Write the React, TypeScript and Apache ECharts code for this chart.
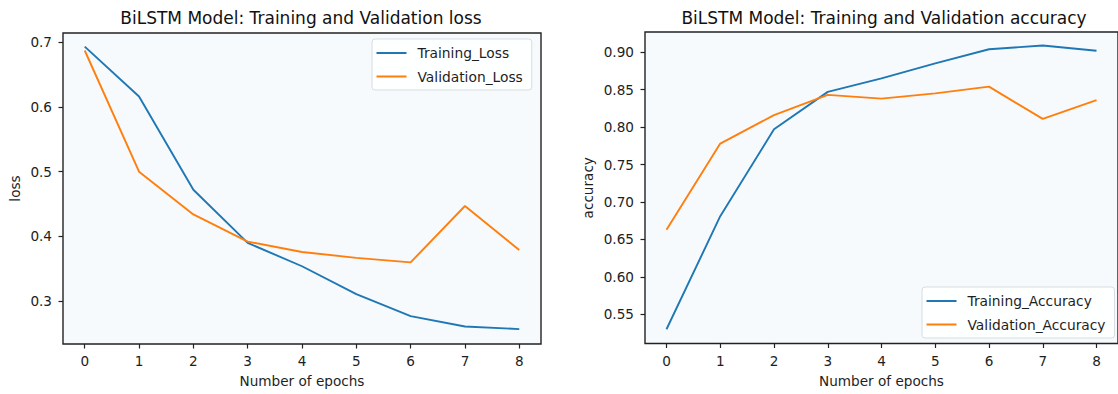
import React, { useEffect, useRef } from "react";
import * as echarts from "echarts";

const epochs = [0, 1, 2, 3, 4, 5, 6, 7, 8];
const trainingLoss = [0.693, 0.616, 0.472, 0.39, 0.354, 0.311, 0.277, 0.261, 0.257];
const validationLoss = [0.687, 0.5, 0.434, 0.392, 0.376, 0.367, 0.36, 0.447, 0.379];
const trainingAccuracy = [0.53, 0.681, 0.797, 0.847, 0.865, 0.885, 0.904, 0.909, 0.902];
const validationAccuracy = [0.663, 0.778, 0.816, 0.843, 0.838, 0.845, 0.854, 0.811, 0.836];
const lossTicks = [0.3, 0.4, 0.5, 0.6, 0.7];
const accuracyTicks = [0.55, 0.6, 0.65, 0.7, 0.75, 0.8, 0.85, 0.9];

const FONT = "DejaVu Sans";
const BLUE = "#1f77b4";
const ORANGE = "#ff7f0e";
const TEXT = "#1e1e1e";
const TICK_FS = 13.6;

const pairs = (ys: number[]) => epochs.map((x, i) => [x, ys[i]]);

export default function App() {
  const ref = useRef<HTMLDivElement>(null);
  useEffect(() => {
    if (!ref.current) return;
    const chart = echarts.init(ref.current, undefined, { renderer: "svg" });
    const xAxisBase = (gridIndex: number) => ({
      type: "value",
      gridIndex,
      min: -0.4,
      max: 8.4,
      name: "Number of epochs",
      nameLocation: "middle",
      nameGap: 30,
      nameTextStyle: { fontFamily: FONT, fontSize: TICK_FS, color: TEXT },
      axisLine: { show: false, onZero: false },
      splitLine: { show: false },
      axisTick: { show: true, customValues: epochs, length: 4.5, inside: false, lineStyle: { color: "#222", width: 1.2 } },
      axisLabel: { customValues: epochs, margin: 10, fontFamily: FONT, fontSize: TICK_FS, color: TEXT, formatter: (v: number) => String(v) },
    });
    const yAxisBase = (gridIndex: number, min: number, max: number, ticks: number[], dec: number, name: string, nameGap: number) => ({
      type: "value",
      gridIndex,
      min,
      max,
      name,
      nameLocation: "middle",
      nameGap,
      nameTextStyle: { fontFamily: FONT, fontSize: TICK_FS, color: TEXT },
      axisLine: { show: false, onZero: false },
      splitLine: { show: false },
      axisTick: { show: true, customValues: ticks, length: 4.5, inside: false, lineStyle: { color: "#222", width: 1.2 } },
      axisLabel: { customValues: ticks, margin: 11, fontFamily: FONT, fontSize: TICK_FS, color: TEXT, formatter: (v: number) => v.toFixed(dec) },
    });
    const legendBase = {
      orient: "vertical",
      icon: "rect",
      itemWidth: 30,
      itemHeight: 2,
      itemGap: 9.5,
      padding: [7, 9, 6.5, 4.5],
      backgroundColor: "rgba(255,255,255,0.85)",
      borderColor: "#d8dde2",
      borderWidth: 1,
      borderRadius: 3,
      textStyle: { fontFamily: FONT, fontSize: 13.8, color: TEXT, padding: [0, 0, 0, 6] },
    };
    chart.setOption({
      animation: false,
      backgroundColor: "#ffffff",
      title: [
        { text: "BiLSTM Model: Training and Validation loss", left: 301, top: 9, textAlign: "center", padding: 0,
          textStyle: { fontFamily: FONT, fontSize: 17, fontWeight: "normal", color: "#111" } },
        { text: "BiLSTM Model: Training and Validation accuracy", left: 884, top: 9, textAlign: "center", padding: 0,
          textStyle: { fontFamily: FONT, fontSize: 17, fontWeight: "normal", color: "#111" } },
      ],
      grid: [
        { left: 63, top: 33, width: 478, height: 311, show: true, backgroundColor: "#f6fafd", borderColor: "#222", borderWidth: 1.4 },
        { left: 645, top: 32, width: 478, height: 311.5, show: true, backgroundColor: "#f6fafd", borderColor: "#222", borderWidth: 1.4 },
      ],
      legend: [
        { ...legendBase, data: ["Training_Loss", "Validation_Loss"], left: 372, top: 39 },
        { ...legendBase, data: ["Training_Accuracy", "Validation_Accuracy"], left: 922, top: 287 },
      ],
      xAxis: [xAxisBase(0), xAxisBase(1)],
      yAxis: [
        yAxisBase(0, 0.234, 0.714, lossTicks, 1, "loss", 41),
        yAxisBase(1, 0.511, 0.927, accuracyTicks, 2, "accuracy", 50),
      ],
      series: [
        { name: "Training_Loss", type: "line", xAxisIndex: 0, yAxisIndex: 0, data: pairs(trainingLoss), symbol: "none", color: BLUE, lineStyle: { width: 1.9, color: BLUE } },
        { name: "Validation_Loss", type: "line", xAxisIndex: 0, yAxisIndex: 0, data: pairs(validationLoss), symbol: "none", color: ORANGE, lineStyle: { width: 1.9, color: ORANGE } },
        { name: "Training_Accuracy", type: "line", xAxisIndex: 1, yAxisIndex: 1, data: pairs(trainingAccuracy), symbol: "none", color: BLUE, lineStyle: { width: 1.9, color: BLUE } },
        { name: "Validation_Accuracy", type: "line", xAxisIndex: 1, yAxisIndex: 1, data: pairs(validationAccuracy), symbol: "none", color: ORANGE, lineStyle: { width: 1.9, color: ORANGE } },
      ],
    });
    return () => chart.dispose();
  }, []);
  return <div ref={ref} style={{ position: "absolute", left: 0, top: 0, width: 1118, height: 394 }} />;
}
